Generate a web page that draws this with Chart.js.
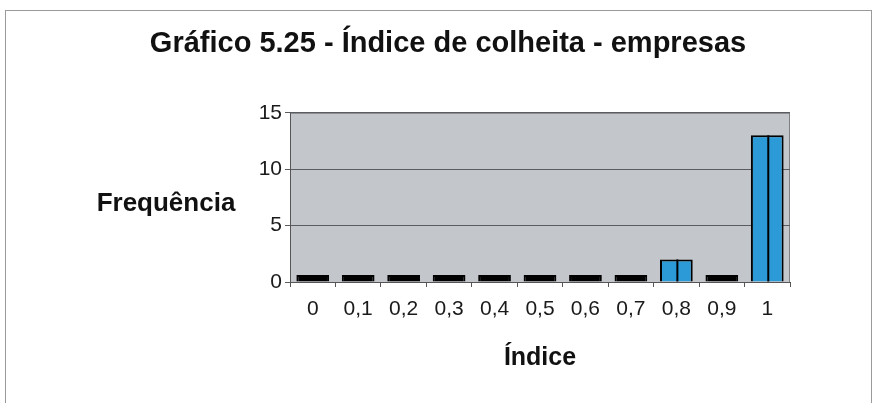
<!DOCTYPE html>
<html>
<head>
<meta charset="utf-8">
<script src="https://cdn.jsdelivr.net/npm/chart.js@4.4.1/dist/chart.umd.min.js"></script>
<style>
    html, body { margin: 0; padding: 0; background: #fff; }
    #wrap { width: 876px; height: 403px; }
</style>
</head>
<body>
<div id="wrap"><canvas id="colheitaChart" width="876" height="403"></canvas></div>
<script>
const categories = ['0', '0,1', '0,2', '0,3', '0,4', '0,5', '0,6', '0,7', '0,8', '0,9', '1'];
const frequencies = [0, 0, 0, 0, 0, 0, 0, 0, 2, 0, 13];
const yTicks = [0, 5, 10, 15];

const FONT = '"Liberation Sans", Arial, sans-serif';

// fundo cinza da área do gráfico + moldura externa
const plotFrame = {
    id: 'plotFrame',
    beforeDraw(chart) {
        const { ctx, chartArea: a } = chart;
        ctx.save();
        ctx.strokeStyle = '#9a9a9a';
        ctx.lineWidth = 1;
        ctx.strokeRect(5.5, 10.5, 866, 400);
        ctx.fillStyle = '#c3c6cb';
        ctx.fillRect(a.left, a.top, a.right - a.left, a.bottom - a.top);
        ctx.strokeStyle = '#7d7f83';
        ctx.strokeRect(a.left + 0.5, a.top + 0.5, a.right - a.left - 1, a.bottom - a.top);
        ctx.restore();
    },
    afterDraw(chart) {
        const { ctx } = chart;
        ctx.save();
        ctx.fillStyle = '#111';
        ctx.font = 'bold 26px ' + FONT;
        ctx.textAlign = 'center';
        ctx.textBaseline = 'middle';
        ctx.fillText('Frequência', 166, 204);
        ctx.restore();
    }
};

// linha de aresta no meio de cada barra (efeito 3D do original)
const barEdges = {
    id: 'barEdges',
    afterDatasetsDraw(chart) {
        const { ctx } = chart;
        const meta = chart.getDatasetMeta(0);
        ctx.save();
        ctx.strokeStyle = '#000';
        ctx.lineWidth = 2;
        meta.data.forEach((bar, i) => {
            if (!frequencies[i]) return;
            ctx.beginPath();
            ctx.moveTo(bar.x + 1, bar.y);
            ctx.lineTo(bar.x + 1, bar.base);
            ctx.stroke();
        });
        ctx.restore();
    }
};

new Chart(document.getElementById('colheitaChart'), {
    type: 'bar',
    data: {
        labels: categories,
        datasets: [{
            data: frequencies,
            backgroundColor: ctx => (ctx.raw ? '#2b9ad6' : '#000'),
            borderColor: '#000',
            borderWidth: 2,
            minBarLength: 7,
            categoryPercentage: 1,
            barPercentage: 0.72
        }]
    },
    options: {
        responsive: false,
        animation: false,
        layout: { padding: { left: 106, right: 86, top: 0, bottom: 21 } },
        plugins: {
            legend: { display: false },
            tooltip: { enabled: false },
            title: {
                display: true,
                text: 'Gráfico 5.25 - Índice de colheita - empresas',
                color: '#111',
                font: { family: FONT, size: 29, weight: 'bold' },
                padding: { top: 27, bottom: 51 }
            }
        },
        scales: {
            x: {
                afterFit(scale) { scale.height = 100; },
                grid: { drawOnChartArea: false, drawTicks: true, tickLength: 5, color: '#555' },
                border: { color: '#555' },
                ticks: { color: '#1a1a1a', font: { family: FONT, size: 21 }, padding: 10 },
                title: {
                    display: true,
                    text: 'Índice',
                    color: '#111',
                    font: { family: FONT, size: 25, weight: 'bold' },
                    padding: { top: 4, bottom: 9 }
                }
            },
            y: {
                min: 0,
                max: 15,
                afterFit(scale) { scale.width = 184; },
                afterBuildTicks(scale) { scale.ticks = yTicks.map(v => ({ value: v })); },
                grid: { color: '#5a5c60', lineWidth: 1, tickLength: 5 },
                border: { color: '#555' },
                ticks: { color: '#1a1a1a', font: { family: FONT, size: 21 }, padding: 3 }
            }
        }
    },
    plugins: [plotFrame, barEdges]
});
</script>
</body>
</html>
